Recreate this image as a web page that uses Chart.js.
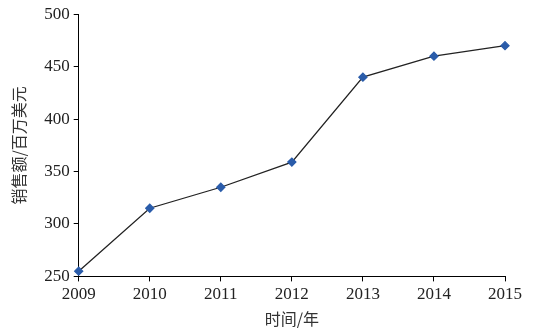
<!DOCTYPE html>
<html>
<head>
<meta charset="utf-8">
<script src="https://cdn.jsdelivr.net/npm/chart.js@4"></script>
<style>
  html, body { margin: 0; padding: 0; background: #fff; }
  #wrap { width: 537px; height: 336px; }
</style>
</head>
<body>
<div id="wrap"><canvas id="chart"></canvas></div>
<script>
// 数据
const years = ["2009", "2010", "2011", "2012", "2013", "2014", "2015"];
const sales = [255, 315, 335, 359, 440, 460, 470];
const yTicks = [250, 300, 350, 400, 450, 500];

const tickFont = { family: "'Liberation Serif', 'Times New Roman', serif", size: 17 };
const titleFont = { family: "'Noto Sans CJK SC', sans-serif", size: 16 };

const ctx = document.getElementById("chart");
new Chart(ctx, {
    type: "line",
    data: {
        labels: years,
        datasets: [{
            data: sales,
            borderColor: "#222",
            borderWidth: 1.3,
            pointStyle: "rectRot",
            pointRadius: 4,
            pointBackgroundColor: "#2a5caa",
            pointBorderColor: "#2a5caa",
            tension: 0,
            fill: false
        }]
    },
    options: {
        responsive: true,
        maintainAspectRatio: false,
        animation: false,
        layout: { padding: { left: 5, right: 32, top: 6, bottom: 3 } },
        plugins: { legend: { display: false }, tooltip: { enabled: false } },
        scales: {
            x: {
                offset: false,
                grid: { display: true, drawOnChartArea: false, drawTicks: true, tickLength: 5, color: "#000" },
                border: { color: "#000", width: 1 },
                ticks: { color: "#222", font: tickFont, padding: 3, maxRotation: 0 },
                title: { display: true, text: "时间/年", color: "#333", font: titleFont, padding: { top: 2 } }
            },
            y: {
                min: yTicks[0],
                max: yTicks[yTicks.length - 1],
                afterBuildTicks: axis => { axis.ticks = yTicks.map(v => ({ value: v })); },
                grid: { display: true, drawOnChartArea: false, drawTicks: true, tickLength: 5, color: "#000" },
                border: { color: "#000", width: 1 },
                ticks: { color: "#222", font: tickFont, padding: 4 },
                title: { display: true, text: "销售额/百万美元", color: "#333", font: titleFont, padding: { bottom: 12 } }
            }
        }
    }
});
</script>
</body>
</html>
